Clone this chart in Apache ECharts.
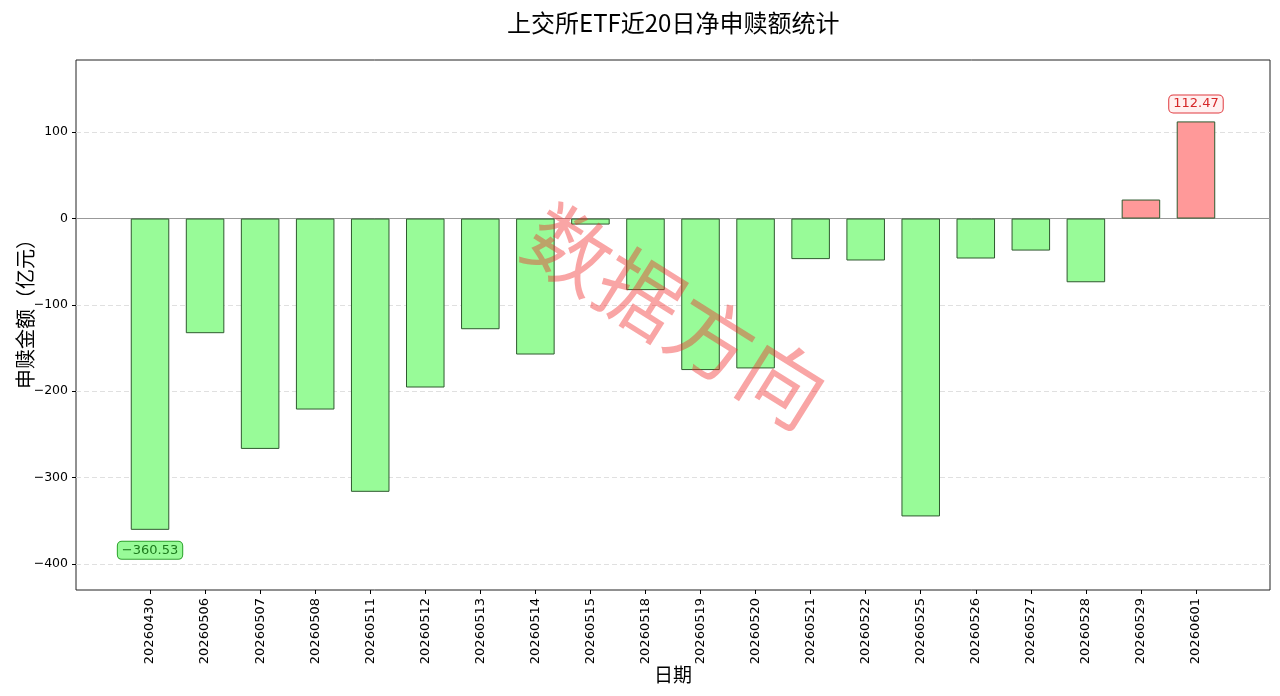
<!DOCTYPE html>
<html>
<head>
<meta charset="utf-8">
<title>上交所ETF近20日净申赎额统计</title>
<script src="https://cdn.jsdelivr.net/npm/echarts@6/dist/echarts.min.js"></script>
<style>
	html,body{margin:0;padding:0;background:#fff;}
	#main{width:1280px;height:696px;}
</style>
</head>
<body>
<div id="main"></div>
<script>
/*日期*/
var dates = ['20260430','20260506','20260507','20260508','20260511','20260512','20260513','20260514','20260515','20260518',
	'20260519','20260520','20260521','20260522','20260525','20260526','20260527','20260528','20260529','20260601'];
/*净申赎额(亿元)*/
var netFlow = [-360.53, -132.8, -266.8, -221.2, -316.5, -195.7, -128.2, -157.5, -7.0, -82.9,
	-175.5, -173.6, -47.0, -48.6, -345.0, -46.3, -37.1, -73.8, 22.0, 112.47];
/*y轴范围*/
var yMin = -430.2;
var yMax = 183.6;

var font = 'DejaVu Sans, sans-serif';
var cjk = 'Noto Sans CJK SC, sans-serif';

initChart();

function initChart(){
	var chart = echarts.init(document.getElementById('main'));

	/*找出最大值和最小值，加标注*/
	var maxIdx = 0, minIdx = 0;
	for (var i = 0; i < netFlow.length; i++) {
		if (netFlow[i] > netFlow[maxIdx]) maxIdx = i;
		if (netFlow[i] < netFlow[minIdx]) minIdx = i;
	}

	var barData = [];
	for (var j = 0; j < netFlow.length; j++) {
		var v = netFlow[j];
		var item = {
			value: v,
			itemStyle: {
				color: v >= 0 ? '#ff9999' : '#98fb98',
				borderColor: '#2f5a2f',
				borderWidth: 1
			}
		};
		if (j == maxIdx) {
			item.label = {
				show: true, position: 'top', distance: 9,
				formatter: v.toFixed(2),
				color: '#d62728', fontSize: 13, fontFamily: font,
				backgroundColor: '#fff0f0', borderColor: '#e0393e', borderWidth: 1,
				borderRadius: 4, padding: [2, 4]
			};
		}
		if (j == minIdx) {
			item.label = {
				show: true, position: 'bottom', distance: 12,
				formatter: v.toFixed(2).replace('-', '\u2212'),
				color: '#1e7b1e', fontSize: 13, fontFamily: font,
				backgroundColor: '#98fb98', borderColor: '#2ca02c', borderWidth: 1,
				borderRadius: 4, padding: [2, 4]
			};
		}
		barData.push(item);
	}

	var option = {
		animation: false,
		backgroundColor: '#fff',
		title: {
			text: '上交所ETF近20日净申赎额统计',
			left: 502,
			top: 6,
			textStyle: { fontSize: 24, fontWeight: 'normal', color: '#000', fontFamily: cjk }
		},
		// grid 0 画外框、y轴、网格线；grid 1 放柱子
		grid: [
			{ left: 76, right: 10, top: 60, bottom: 106, outerBoundsMode: 'none', show: true, borderColor: '#222', borderWidth: 1 },
			{ left: 122.5, right: 56.5, top: 60, bottom: 106, outerBoundsMode: 'none' }
		],
		xAxis: [
			{
				type: 'value', gridIndex: 0, min: 0, max: 1,
				axisLine: { show: true, onZero: true, lineStyle: { color: '#999', width: 1 } },
				axisTick: { show: false },
				axisLabel: { show: false },
				splitLine: { show: false }
			},
			{
				type: 'category', gridIndex: 1, data: dates,
				axisLine: { show: false, onZero: false },
				axisTick: { show: true, alignWithLabel: true, length: 4, lineStyle: { color: '#000' } },
				axisLabel: { rotate: 90, fontSize: 13, color: '#000', fontFamily: font, margin: 8, interval: 0 },
				name: '日期',
				nameLocation: 'middle',
				nameGap: 75,
				nameMoveOverlap: false,
				nameTextStyle: { fontSize: 19, color: '#000', fontFamily: cjk }
			}
		],
		yAxis: [
			{
				type: 'value', gridIndex: 0, min: yMin, max: yMax,
				axisLine: { show: false },
				axisTick: { show: true, length: 4, lineStyle: { color: '#000' } },
				axisLabel: {
					fontSize: 12.5, color: '#000', fontFamily: font, margin: 8,
					showMinLabel: false, showMaxLabel: false,
					formatter: function(val){ return String(val).replace('-', '\u2212'); }
				},
				splitLine: {
					show: true, showMinLine: false, showMaxLine: false,
					lineStyle: { color: '#e0e0e0', type: [5, 3], width: 1 }
				},
				name: '申赎金额（亿元）',
				nameLocation: 'middle',
				nameGap: 41,
				nameMoveOverlap: false,
				nameTextStyle: { fontSize: 20, color: '#000', fontFamily: cjk, padding: [0, 0, 0, 32] }
			},
			{
				type: 'value', gridIndex: 1, min: yMin, max: yMax,
				show: false,
				splitLine: { show: false }
			}
		],
		series: [{
			name: '净申赎额',
			type: 'bar',
			xAxisIndex: 1,
			yAxisIndex: 1,
			barWidth: '70%',
			data: barData
		}],
		/*水印*/
		graphic: [{
			type: 'text',
			x: 676,
			y: 316,
			rotation: -0.56,
			z: 100,
			silent: true,
			style: {
				text: '数据方向',
				fontSize: 84,
				fontFamily: cjk,
				fill: 'rgba(240,40,40,0.42)',
				align: 'center',
				verticalAlign: 'middle'
			}
		}]
	};
	chart.setOption(option);
}
</script>
</body>
</html>
